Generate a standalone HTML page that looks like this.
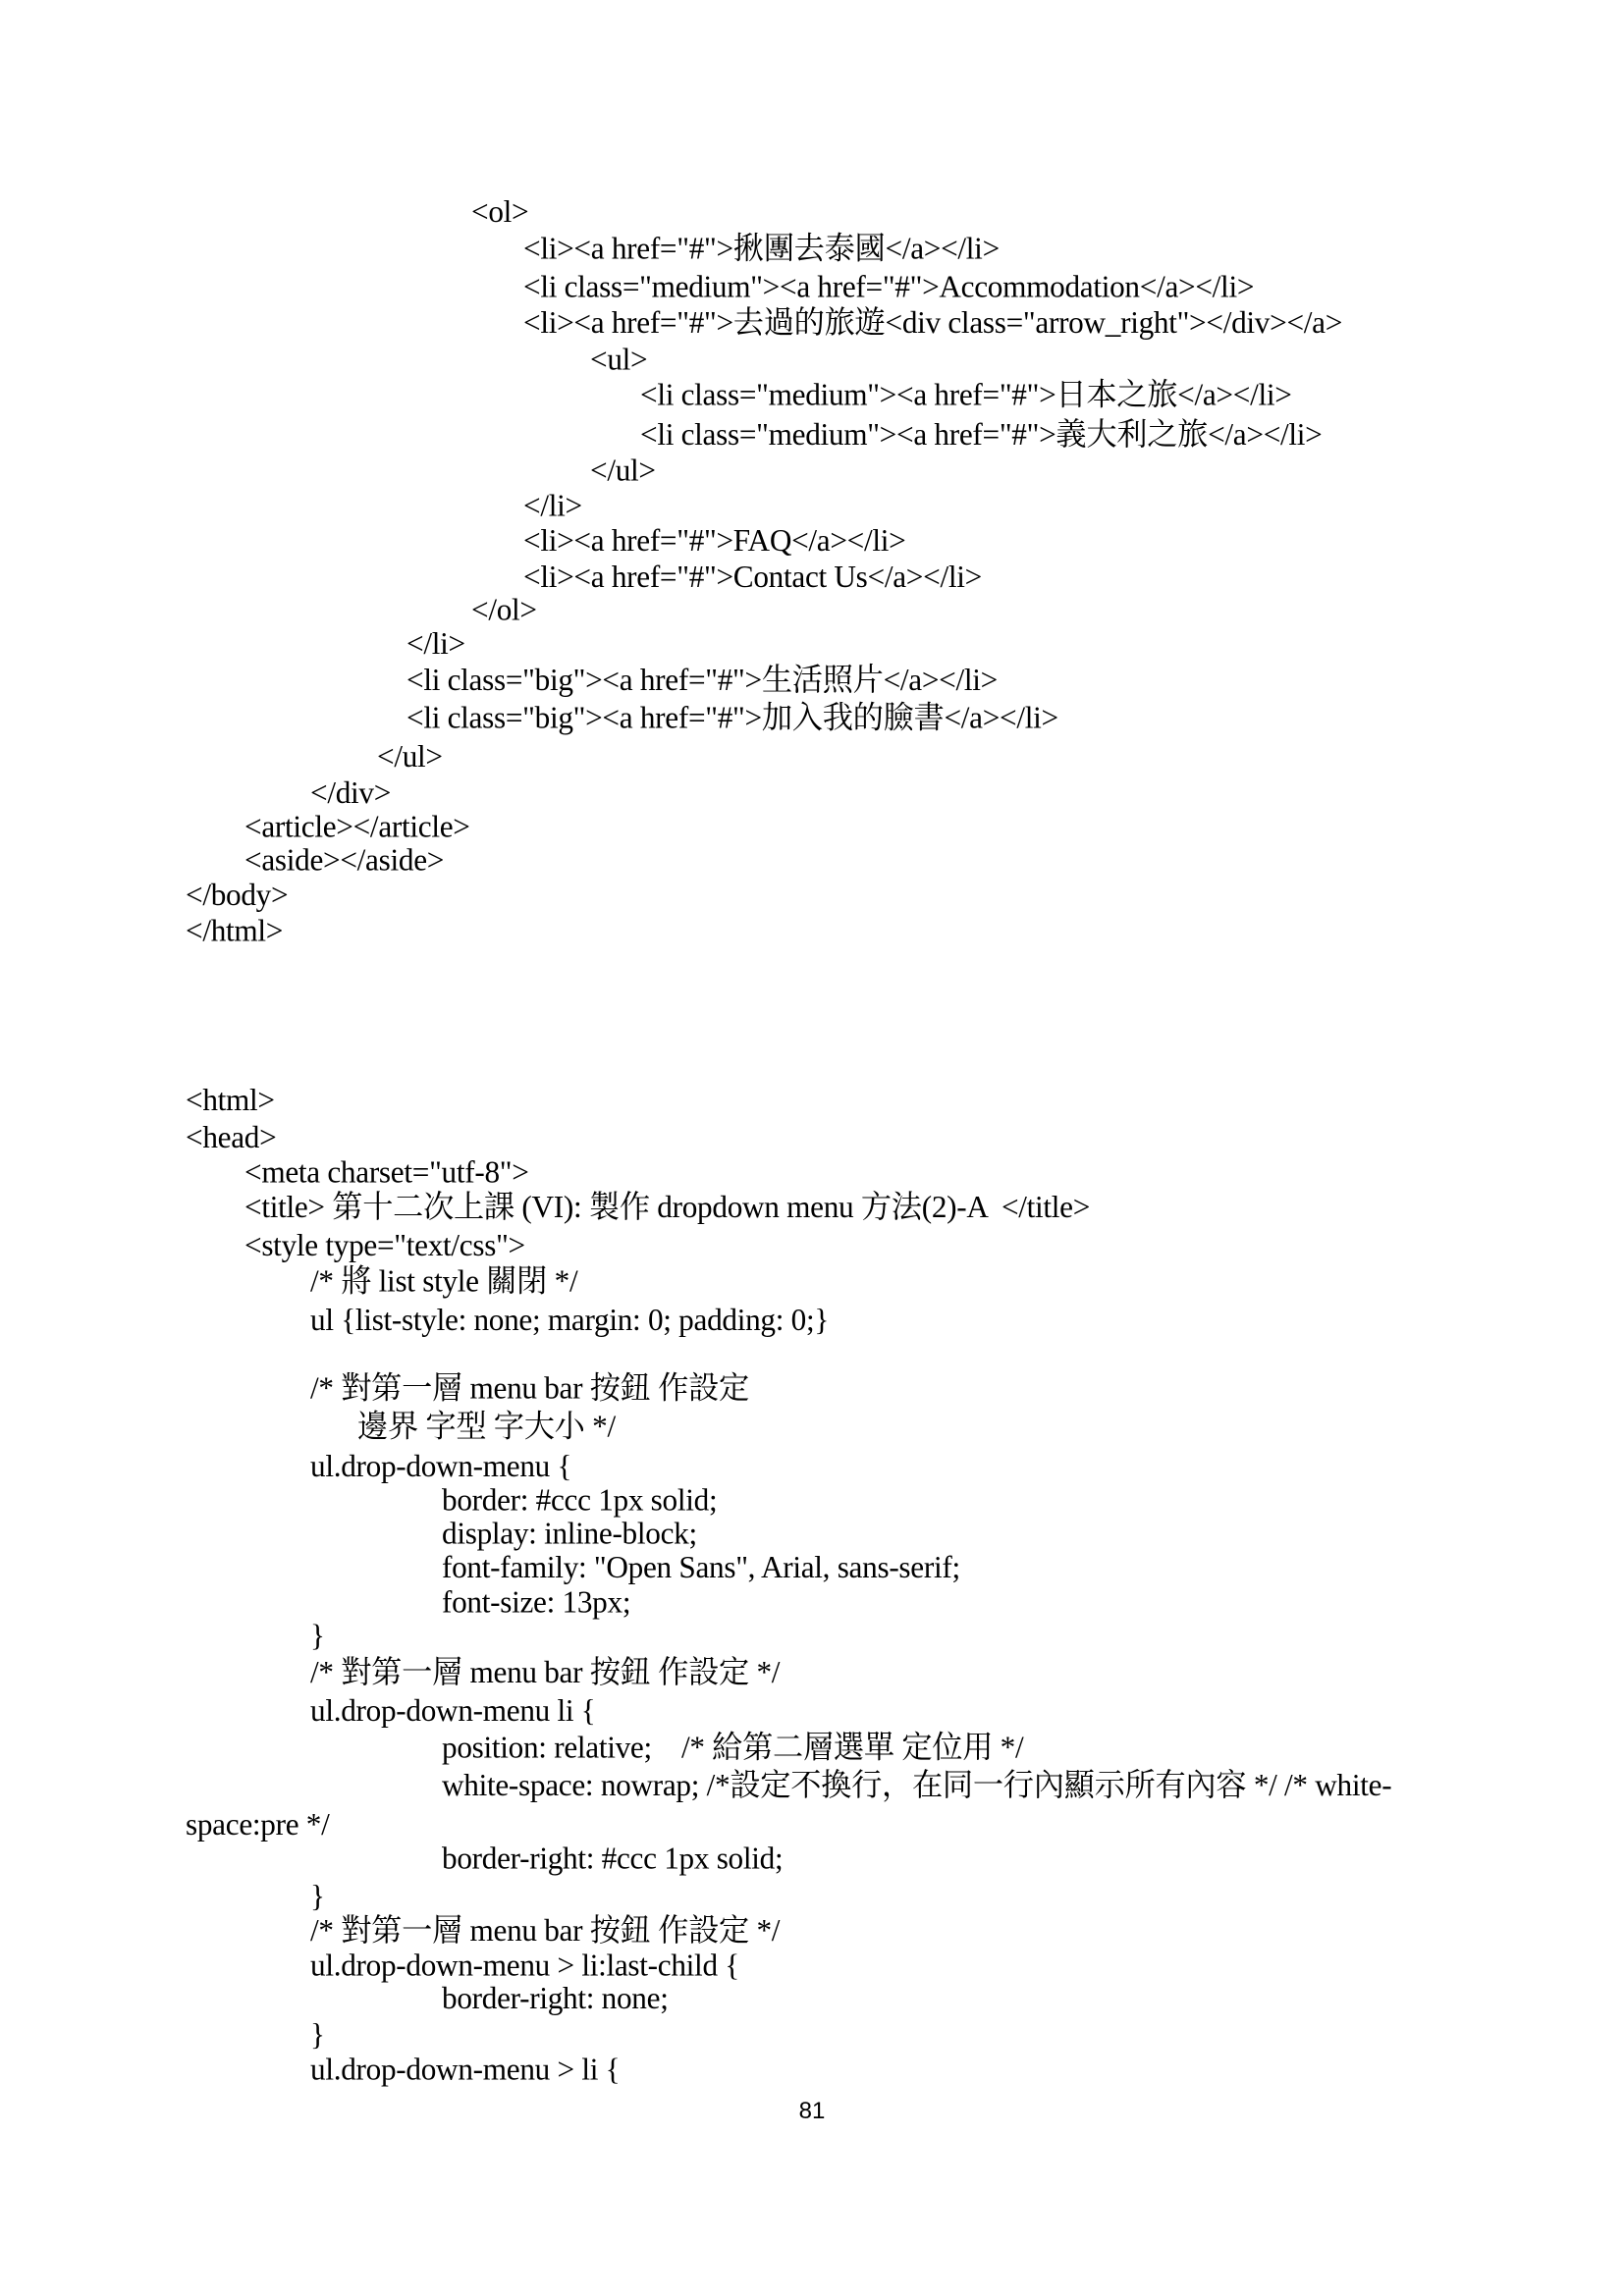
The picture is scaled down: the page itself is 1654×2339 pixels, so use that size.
<!DOCTYPE html>
<html><head><meta charset="utf-8"><style>
html,body{margin:0;padding:0;background:#fff;}
body{width:1654px;height:2339px;position:relative;overflow:hidden;}
#w{position:absolute;left:0;top:0;width:1654px;height:2339px;transform:translate(-4px,-1px) scaleY(0.9914);transform-origin:0 0;}
.l{position:absolute;white-space:pre;font-family:"Liberation Serif","Noto Serif CJK SC",serif;font-size:32px;line-height:36px;color:#000;letter-spacing:-0.3px;transform:scaleX(0.976);transform-origin:0 0;}
.pn{position:absolute;left:0;width:1654px;text-align:center;top:2136px;font-family:"Liberation Sans",sans-serif;font-size:24px;line-height:30px;}
</style></head><body>
<div id="w">
<div class="l" style="left:484px;top:200px">&lt;ol&gt;</div>
<div class="l" style="left:537px;top:238px">&lt;li&gt;&lt;a href="#"&gt;揪團去泰國&lt;/a&gt;&lt;/li&gt;</div>
<div class="l" style="left:537px;top:277px">&lt;li class="medium"&gt;&lt;a href="#"&gt;Accommodation&lt;/a&gt;&lt;/li&gt;</div>
<div class="l" style="left:537px;top:314px">&lt;li&gt;&lt;a href="#"&gt;去過的旅遊&lt;div class="arrow_right"&gt;&lt;/div&gt;&lt;/a&gt;</div>
<div class="l" style="left:605px;top:352px">&lt;ul&gt;</div>
<div class="l" style="left:656px;top:388px">&lt;li class="medium"&gt;&lt;a href="#"&gt;日本之旅&lt;/a&gt;&lt;/li&gt;</div>
<div class="l" style="left:656px;top:429px">&lt;li class="medium"&gt;&lt;a href="#"&gt;義大利之旅&lt;/a&gt;&lt;/li&gt;</div>
<div class="l" style="left:605px;top:466px">&lt;/ul&gt;</div>
<div class="l" style="left:537px;top:502px">&lt;/li&gt;</div>
<div class="l" style="left:537px;top:538px">&lt;li&gt;&lt;a href="#"&gt;FAQ&lt;/a&gt;&lt;/li&gt;</div>
<div class="l" style="left:537px;top:575px">&lt;li&gt;&lt;a href="#"&gt;Contact Us&lt;/a&gt;&lt;/li&gt;</div>
<div class="l" style="left:484px;top:609px">&lt;/ol&gt;</div>
<div class="l" style="left:418px;top:644px">&lt;/li&gt;</div>
<div class="l" style="left:418px;top:681px">&lt;li class="big"&gt;&lt;a href="#"&gt;生活照片&lt;/a&gt;&lt;/li&gt;</div>
<div class="l" style="left:418px;top:720px">&lt;li class="big"&gt;&lt;a href="#"&gt;加入我的臉書&lt;/a&gt;&lt;/li&gt;</div>
<div class="l" style="left:388px;top:760px">&lt;/ul&gt;</div>
<div class="l" style="left:320px;top:797px">&lt;/div&gt;</div>
<div class="l" style="left:253px;top:832px">&lt;article&gt;&lt;/article&gt;</div>
<div class="l" style="left:253px;top:866px">&lt;aside&gt;&lt;/aside&gt;</div>
<div class="l" style="left:193px;top:902px">&lt;/body&gt;</div>
<div class="l" style="left:193px;top:939px">&lt;/html&gt;</div>

<div class="l" style="left:193px;top:1113px">&lt;html&gt;</div>
<div class="l" style="left:193px;top:1151px">&lt;head&gt;</div>
<div class="l" style="left:253px;top:1187px">&lt;meta charset="utf-8"&gt;</div>
<div class="l" style="left:253px;top:1223px">&lt;title&gt; 第十二次上課 (VI): 製作 dropdown menu 方法(2)-A  &lt;/title&gt;</div>
<div class="l" style="left:253px;top:1262px">&lt;style type="text/css"&gt;</div>
<div class="l" style="left:320px;top:1299px">/* 將 list style 關閉 */</div>
<div class="l" style="left:320px;top:1339px">ul {list-style: none; margin: 0; padding: 0;}</div>
<div class="l" style="left:320px;top:1409px">/* 對第一層 menu bar 按鈕 作設定</div>
<div class="l" style="left:368px;top:1448px">邊界 字型 字大小 */</div>
<div class="l" style="left:320px;top:1489px">ul.drop-down-menu {</div>
<div class="l" style="left:454px;top:1524px">border: #ccc 1px solid;</div>
<div class="l" style="left:454px;top:1558px">display: inline-block;</div>
<div class="l" style="left:454px;top:1593px">font-family: "Open Sans", Arial, sans-serif;</div>
<div class="l" style="left:454px;top:1629px">font-size: 13px;</div>
<div class="l" style="left:320px;top:1663px">}</div>
<div class="l" style="left:320px;top:1701px">/* 對第一層 menu bar 按鈕 作設定 */</div>
<div class="l" style="left:320px;top:1740px">ul.drop-down-menu li {</div>
<div class="l" style="left:454px;top:1778px">position: relative;    /* 給第二層選單 定位用 */</div>
<div class="l" style="left:454px;top:1817px">white-space: nowrap; /*設定不換行，在同一行內顯示所有內容 */ /* white-</div>
<div class="l" style="left:193px;top:1857px">space:pre */</div>
<div class="l" style="left:454px;top:1892px">border-right: #ccc 1px solid;</div>
<div class="l" style="left:320px;top:1931px">}</div>
<div class="l" style="left:320px;top:1966px">/* 對第一層 menu bar 按鈕 作設定 */</div>
<div class="l" style="left:320px;top:2002px">ul.drop-down-menu &gt; li:last-child {</div>
<div class="l" style="left:454px;top:2036px">border-right: none;</div>
<div class="l" style="left:320px;top:2073px">}</div>
<div class="l" style="left:320px;top:2109px">ul.drop-down-menu &gt; li {</div>
</div>
<div class="pn">81</div>
</body></html>
